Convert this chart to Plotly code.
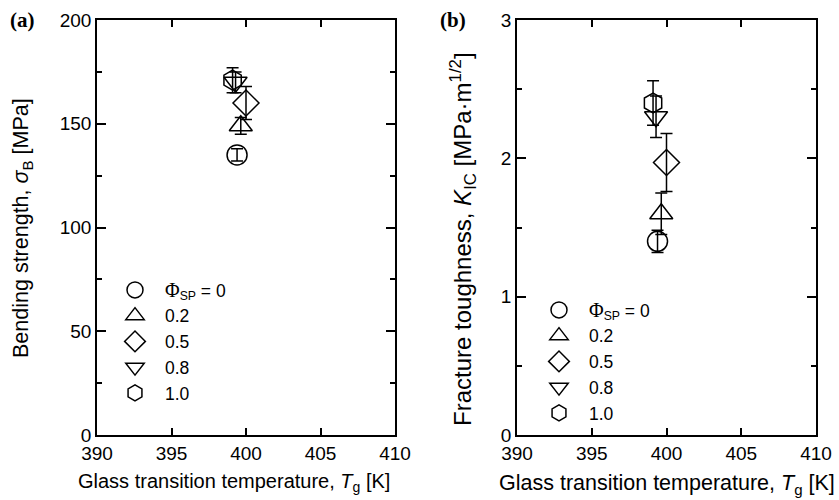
import plotly.graph_objects as go

# Glass transition temperature for each spiro-monomer fraction
phi_labels = ["<span style='font-family:Liberation Serif;font-size:20px'>Φ</span>"
              "<sub>SP</sub> = 0",
              "0.2", "0.5", "0.8", "1.0"]
symbols = ["circle-open", "triangle-up-open", "diamond-open",
           "triangle-down-open", "hexagon-open"]
tg = [399.4, 399.65, 400.0, 399.3, 399.1]

# (a) bending strength [MPa]
sigma_b = [135, 149, 160, 170, 171]
sigma_b_err = [3, 4, 8, 5, 6]

# (b) fracture toughness [MPa m^1/2]
k_ic = [1.40, 1.60, 1.97, 2.30, 2.40]
k_ic_err = [0.08, 0.15, 0.21, 0.15, 0.16]

x_title = "Glass transition temperature, <i>T</i><sub>g</sub> [K]"
ya_title = "Bending strength, <i>σ</i><sub>B</sub> [MPa]"
yb_title = "Fracture toughness, <i>K</i><sub>IC</sub> [MPa·m<sup>1/2</sup>]"

FONT = "Liberation Sans, Arial, sans-serif"
SERIF = "Liberation Serif, Times New Roman, serif"
fig = go.Figure()

for i in range(len(tg)):
    common = dict(
        mode="markers",
        name=phi_labels[i],
        marker=dict(symbol=symbols[i], size=20, color="black",
                    line=dict(width=1.5, color="black")),
    )
    fig.add_trace(go.Scatter(
        x=[tg[i]], y=[sigma_b[i]], xaxis="x", yaxis="y", legend="legend",
        error_y=dict(type="data", array=[sigma_b_err[i]], color="black",
                     thickness=1.5, width=6),
        **common))
    fig.add_trace(go.Scatter(
        x=[tg[i]], y=[k_ic[i]], xaxis="x2", yaxis="y2", legend="legend2",
        error_y=dict(type="data", array=[k_ic_err[i]], color="black",
                     thickness=1.5, width=6),
        **common))

W, H = 839, 500
dom_y = [(H - 435) / H, (H - 20) / H]

xaxis_style = dict(
    range=[390, 410], tickvals=[390, 395, 400, 405, 410],
    ticks="inside", ticklen=7, tickwidth=1.5, tickcolor="black",
    showline=True, linecolor="black", linewidth=1.5, mirror="ticks",
    showgrid=False, zeroline=False, automargin=False,
    tickfont=dict(family=FONT, size=19, color="black"),
)
yaxis_style = dict(
    ticks="inside", ticklen=9, tickwidth=1.5, tickcolor="black",
    showline=True, linecolor="black", linewidth=1.5, mirror="ticks",
    showgrid=False, zeroline=False, automargin=False,
    tickfont=dict(family=FONT, size=19, color="black"),
)
legend_style = dict(xanchor="left", yanchor="top", bgcolor="rgba(0,0,0,0)",
                    tracegroupgap=0, itemwidth=50,
                    font=dict(family=FONT, size=17.5, color="black"))


def label(text, x, y, size, family=FONT, angle=0, xanchor="center"):
    return dict(text=text, x=x / W, y=1 - y / H, xref="paper", yref="paper",
                xanchor=xanchor, yanchor="middle", showarrow=False,
                textangle=angle, font=dict(family=family, size=size, color="black"))


fig.update_layout(
    width=W, height=H,
    margin=dict(l=0, r=0, t=0, b=0),
    paper_bgcolor="white", plot_bgcolor="white",
    xaxis=dict(domain=[97 / W, 395 / W], anchor="y", **xaxis_style),
    yaxis=dict(domain=dom_y, anchor="x", range=[0, 200],
               tickvals=[0, 50, 100, 150, 200],
               minor=dict(dtick=25, ticks="inside", ticklen=5, tickwidth=1.5,
                          tickcolor="black"),
               **yaxis_style),
    xaxis2=dict(domain=[517 / W, 816 / W], anchor="y2", **xaxis_style),
    yaxis2=dict(domain=dom_y, anchor="x2", range=[0, 3],
                tickvals=[0, 1, 2, 3],
                minor=dict(dtick=0.5, ticks="inside", ticklen=5, tickwidth=1.5,
                           tickcolor="black"),
                **yaxis_style),
    legend=dict(x=105 / W, y=1 - 272 / H, **legend_style),
    legend2=dict(x=529 / W, y=1 - 292 / H, **legend_style),
    annotations=[
        label("<b>(a)</b>", 8, 20, 21, SERIF, xanchor="left"),
        label("<b>(b)</b>", 438, 20, 21, SERIF, xanchor="left"),
        label(x_title, 234, 482, 20),
        label(x_title, 667, 484, 21.5),
        label(ya_title, 23, 228, 21.5, angle=-90),
        label(yb_title, 463, 239, 24, angle=-90),
    ],
)

fig.write_html("out.html")
